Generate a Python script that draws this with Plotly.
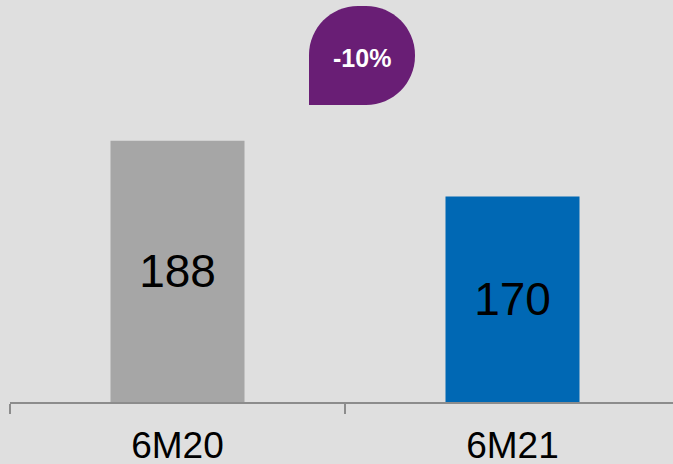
"""Half-year comparison bar chart with a percentage-change badge."""

import plotly.graph_objects as go

categories = ["6M20", "6M21"]
values = [188, 170]
bar_colors = ["#a6a6a6", "#0068b4"]
change_label = "-10%"

# axis doesn't start at zero in the source chart
Y_MIN = 103.6
Y_MAX = 233.5

W, H = 673, 464
M_L, M_R, M_T, M_B = 10, 0, 0, 62
PLOT_W = W - M_L - M_R
PLOT_H = H - M_T - M_B


def px_to_paper(x, y):
    return (x - M_L) / PLOT_W, (H - M_B - y) / PLOT_H


def badge_path(x0, y0, x1, y1, r):
    # rounded on three corners, square bottom-left (speech bubble)
    k = 0.5523 * r
    pts = [
        ("M", [(x0, y1)]),
        ("L", [(x0, y0 + r)]),
        ("C", [(x0, y0 + r - k), (x0 + r - k, y0), (x0 + r, y0)]),
        ("L", [(x1 - r, y0)]),
        ("C", [(x1 - r + k, y0), (x1, y0 + r - k), (x1, y0 + r)]),
        ("L", [(x1, y1 - r)]),
        ("C", [(x1, y1 - r + k), (x1 - r + k, y1), (x1 - r, y1)]),
    ]
    out = []
    for cmd, coords in pts:
        parts = []
        for x, y in coords:
            px, py = px_to_paper(x, y)
            parts.append(f"{px:.5f},{py:.5f}")
        out.append(cmd + " ".join(parts))
    return " ".join(out) + " Z"


fig = go.Figure()
fig.add_trace(
    go.Bar(
        x=categories,
        y=[v - Y_MIN for v in values],
        base=Y_MIN,
        width=0.4,
        offset=-0.2,
        marker=dict(color=bar_colors, line=dict(width=0)),
        text=[str(v) for v in values],
        textposition="inside",
        insidetextanchor="middle",
        textfont=dict(size=46, color="#000000", family="Arial, Liberation Sans"),
        hoverinfo="skip",
    )
)

fig.add_shape(
    type="path",
    xref="paper",
    yref="paper",
    path=badge_path(309, 6, 415, 105, 49),
    fillcolor="#691e75",
    line=dict(width=0),
    layer="above",
)
bx, by = px_to_paper(362, 58)
fig.add_annotation(
    text=f"<b>{change_label}</b>",
    xref="paper",
    yref="paper",
    x=bx,
    y=by,
    xanchor="center",
    yanchor="middle",
    showarrow=False,
    font=dict(size=25, color="#ffffff", family="Arial, Liberation Sans"),
)

fig.update_layout(
    width=W,
    height=H,
    margin=dict(l=M_L, r=M_R, t=M_T, b=M_B),
    paper_bgcolor="#dfdfdf",
    plot_bgcolor="#dfdfdf",
    showlegend=False,
    uniformtext=dict(mode=False),
)
fig.update_xaxes(
    range=[-0.5, -0.5 + PLOT_W / 335],
    showline=True,
    linecolor="#8c8c8c",
    linewidth=1.5,
    ticks="outside",
    tickson="boundaries",
    ticklen=10,
    tickcolor="#8c8c8c",
    tickwidth=1.5,
    ticklabelstandoff=10,
    tickfont=dict(size=37, color="#000000", family="Arial, Liberation Sans"),
    showgrid=False,
    zeroline=False,
    fixedrange=True,
    automargin=False,
)
fig.update_yaxes(
    range=[Y_MIN, Y_MAX],
    visible=False,
    showgrid=False,
    zeroline=False,
    fixedrange=True,
    automargin=False,
)

fig.write_html(
    "out.html",
    config={"displayModeBar": False},
    post_script="document.body.style.margin='0';",
)
